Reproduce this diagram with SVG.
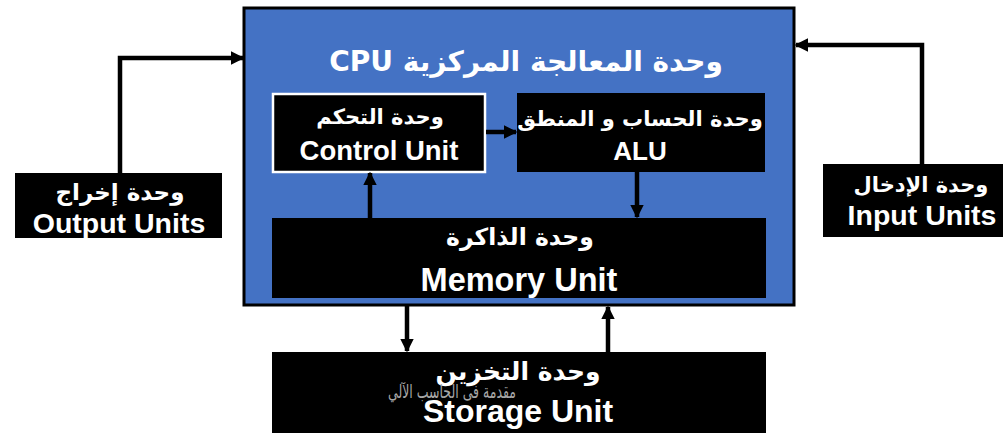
<svg xmlns="http://www.w3.org/2000/svg" width="1005" height="433" viewBox="0 0 1005 433">
<defs>
<style>
.box{fill:#000;}
.en{font-family:"Liberation Sans","DejaVu Sans",sans-serif;font-weight:bold;fill:#fff;text-anchor:middle;}
.ar{font-family:"DejaVu Sans","Noto Sans",sans-serif;font-weight:bold;fill:#fff;text-anchor:middle;}
.conn{fill:none;stroke:#000;stroke-width:4.5;}
</style>
<marker id="ah" viewBox="0 0 10 10" refX="9" refY="5" markerWidth="3" markerHeight="3" orient="auto" markerUnits="strokeWidth">
<path d="M0,0 L10,5 L0,10 Z" fill="#000"/>
</marker>
</defs>
<rect width="1005" height="433" fill="#fff"/>
<g id="cpu">
<rect x="244" y="8" width="550" height="297" fill="#4472C4" stroke="#000" stroke-width="3"/>
<text class="ar" x="526" y="71" font-size="28" direction="rtl">وحدة المعالجة المركزية CPU</text>
</g>
<g id="control">
<rect x="273" y="94" width="212" height="78" fill="#000" stroke="#fff" stroke-width="2.5"/>
<text class="ar" x="380" y="124" font-size="21">وحدة التحكم</text>
<text class="en" x="379" y="160" font-size="27.5">Control Unit</text>
</g>
<g id="alu">
<rect class="box" x="517" y="93" width="248" height="79"/>
<text class="ar" x="640" y="126" font-size="21">وحدة الحساب و المنطق</text>
<text class="en" x="640" y="160" font-size="26">ALU</text>
</g>
<g id="memory">
<rect class="box" x="272" y="218" width="494" height="80"/>
<text class="ar" x="520" y="245" font-size="23.5">وحدة الذاكرة</text>
<text class="en" x="519" y="291" font-size="32.5">Memory Unit</text>
</g>
<g id="storage">
<rect class="box" x="272" y="352" width="494" height="81"/>
<text class="ar" x="518" y="380" font-size="25">وحدة التخزين</text>
<text x="452" y="398" font-size="19" fill="#A6A6A6" text-anchor="middle" font-family="DejaVu Sans, Noto Sans, sans-serif" textLength="128" lengthAdjust="spacingAndGlyphs">مقدمة فى الحاسب الآلي</text>
<text class="en" x="518" y="422" font-size="32">Storage Unit</text>
</g>
<g id="output">
<rect class="box" x="15" y="173" width="207" height="65"/>
<text class="ar" x="120" y="200" font-size="23">وحدة إخراج</text>
<text class="en" x="119" y="233" font-size="28.5">Output Units</text>
</g>
<g id="input">
<rect class="box" x="823" y="164" width="180" height="73"/>
<text class="ar" x="921" y="192" font-size="21">وحدة الإدخال</text>
<text class="en" x="922" y="225" font-size="28.5">Input Units</text>
</g>
<g id="connectors">
<path class="conn" d="M120,173 V58 H243" marker-end="url(#ah)"/>
<path class="conn" d="M922,164 V45 H796" marker-end="url(#ah)"/>
<path class="conn" d="M486,132 H516" marker-end="url(#ah)"/>
<path class="conn" d="M370,218 V173" marker-end="url(#ah)"/>
<path class="conn" d="M637,172 V217" marker-end="url(#ah)"/>
<path class="conn" d="M407,306 V351" marker-end="url(#ah)"/>
<path class="conn" d="M608,352 V307" marker-end="url(#ah)"/>
</g>
</svg>
